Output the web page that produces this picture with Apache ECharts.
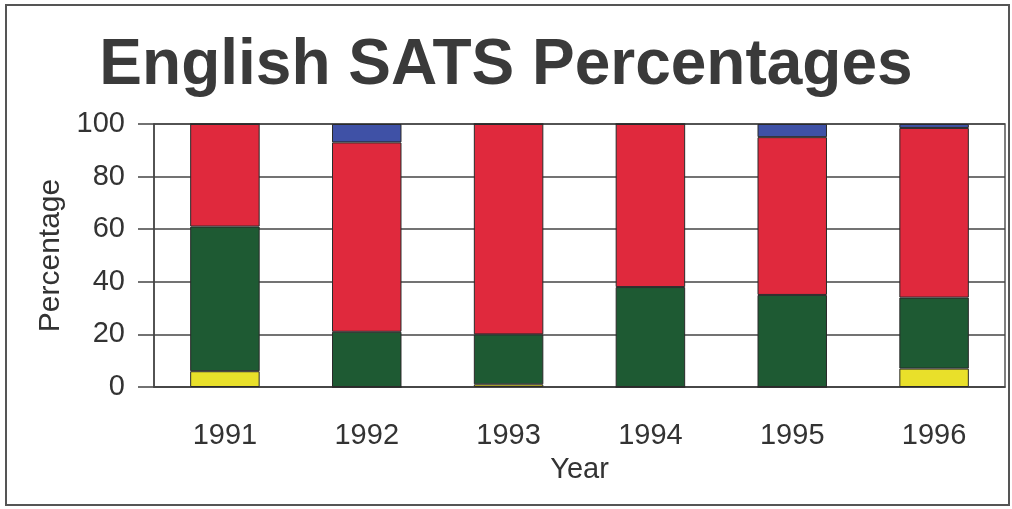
<!DOCTYPE html>
<html>
<head>
<meta charset="utf-8">
<script src="https://cdn.jsdelivr.net/npm/echarts@6/dist/echarts.min.js"></script>
<style>
  html, body { margin: 0; padding: 0; background: #ffffff; }
  #chart { width: 1012px; height: 509px; }
</style>
</head>
<body>
<div id="chart"></div>
<script>
// Year categories and stacked percentage bands (bottom to top)
const years = ['1991', '1992', '1993', '1994', '1995', '1996'];
const bandYellow = [6, 0, 1, 0, 0, 7];
const bandGreen  = [55, 21, 19, 38, 35, 27];
const bandRed    = [39, 72, 80, 62, 60, 64.5];
const bandBlue   = [0, 7, 0, 0, 5, 1.5];
const yTicks = [0, 20, 40, 60, 80, 100];

const font = 'Arial, "Liberation Sans", Helvetica, sans-serif';
const ink = '#333333';

function band(name, data, color) {
  return {
    name: name,
    type: 'bar',
    stack: 'total',
    data: data,
    barWidth: '49%',
    itemStyle: { color: color, borderColor: '#2a2a2a', borderWidth: 1 }
  };
}

const chart = echarts.init(document.getElementById('chart'));
chart.setOption({
  backgroundColor: '#ffffff',
  animation: false,
  title: {
    text: 'English SATS Percentages',
    left: 'center',
    top: 29,
    textStyle: { fontFamily: font, fontSize: 64, fontWeight: 'bold', color: '#3a3a3a' }
  },
  graphic: [{
    type: 'rect',
    shape: { x: 6, y: 5, width: 1003, height: 500 },
    style: { fill: 'none', stroke: '#555555', lineWidth: 2 },
    silent: true
  }],
  grid: {
    left: 154, right: 7, top: 124, bottom: 122,
    show: true, borderColor: '#555555', borderWidth: 1.5,
    containLabel: false
  },
  xAxis: {
    type: 'category',
    data: years,
    boundaryGap: true,
    name: 'Year',
    nameLocation: 'middle',
    nameGap: 68,
    nameTextStyle: { fontFamily: font, fontSize: 29, color: ink },
    axisLine: { lineStyle: { color: '#444444', width: 1.5 } },
    axisTick: { alignWithLabel: true, length: 13, lineStyle: { color: '#444444', width: 1.5 } },
    axisLabel: { fontFamily: font, fontSize: 29, color: ink, margin: 34 }
  },
  yAxis: {
    type: 'value',
    min: 0,
    max: 100,
    interval: 20,
    name: 'Percentage',
    nameLocation: 'middle',
    nameGap: 84,
    nameRotate: 90,
    nameTextStyle: { fontFamily: font, fontSize: 30, color: ink },
    axisLine: { show: true, lineStyle: { color: '#444444', width: 1.5 } },
    axisTick: { show: true, inside: false, length: 16, lineStyle: { color: '#444444', width: 1.5 } },
    axisLabel: {
      fontFamily: font, fontSize: 29, color: ink, margin: 29,
      formatter: function (v) { return yTicks.indexOf(v) >= 0 ? String(v) : ''; }
    },
    splitLine: { show: true, lineStyle: { color: '#444444', width: 1.5 } }
  },
  series: [
    band('Yellow', bandYellow, '#e9e02a'),
    band('Green', bandGreen, '#1e5a33'),
    band('Red', bandRed, '#e0293d'),
    band('Blue', bandBlue, '#3f51a6')
  ]
});
</script>
</body>
</html>
